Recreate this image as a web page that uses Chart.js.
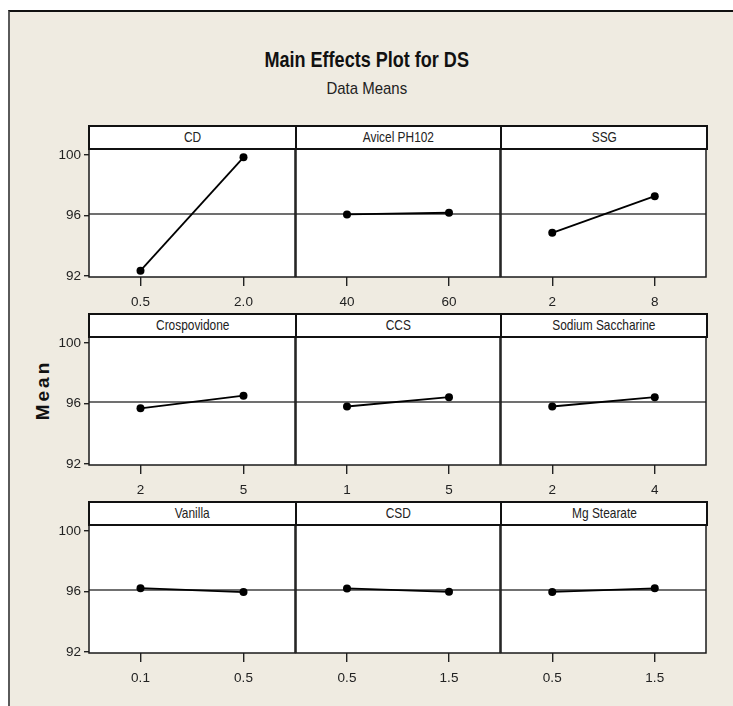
<!DOCTYPE html>
<html>
<head>
<meta charset="utf-8">
<script src="https://cdn.jsdelivr.net/npm/chart.js@4.4.1/dist/chart.umd.min.js"></script>
<style>
  html, body { margin: 0; padding: 0; background: #ffffff; }
  body { width: 733px; height: 706px; overflow: hidden; position: relative;
         font-family: "Liberation Sans", Arial, sans-serif; }
  #frame { position: absolute; left: 8px; top: 10px; width: 740px; height: 720px;
           background: #efebe1; border-left: 2px solid #5a5a5a; border-top: 2px solid #111; }
  .abs { position: absolute; }
  .sq { display: inline-block; transform-origin: 50% 50%; }
  #title { left: 0; width: 733px; top: 47px; text-align: center; font-weight: bold;
           font-size: 22px; color: #111; line-height: 26px; }
  #title .sq { transform: scaleX(0.82); }
  #subtitle { left: 0; width: 733px; top: 79px; text-align: center; font-size: 17px;
              color: #222; line-height: 20px; }
  #subtitle .sq { transform: scaleX(0.88); }
  #ylab { left: 43px; top: 390px; transform: translate(-50%, -50%) rotate(-90deg);
          font-family: "Liberation Sans", Arial, sans-serif; font-weight: bold; font-size: 19px;
          letter-spacing: 3px; color: #111; white-space: nowrap; }
  .strip { position: absolute; box-sizing: border-box; background: #ffffff;
           border: 2px solid #111; text-align: center; font-size: 14.5px; color: #222;
           white-space: nowrap; z-index: 5; }
  .strip .sq { transform: scaleX(0.82); }
  canvas.panel { position: absolute; }
</style>
</head>
<body>
<div id="frame"></div>
<div id="title" class="abs"><span class="sq">Main Effects Plot for DS</span></div>
<div id="subtitle" class="abs"><span class="sq">Data Means</span></div>
<div id="ylab" class="abs">Mean</div>
<script>
// ---- data ----
const factors = ["CD", "Avicel PH102", "SSG",
                 "Crospovidone", "CCS", "Sodium Saccharine",
                 "Vanilla", "CSD", "Mg Stearate"];
const levels = [["0.5", "2.0"], ["40", "60"], ["2", "8"],
                ["2", "5"], ["1", "5"], ["2", "4"],
                ["0.1", "0.5"], ["0.5", "1.5"], ["0.5", "1.5"]];
const means = [[92.35, 99.85], [96.07, 96.18], [94.85, 97.28],
               [95.68, 96.52], [95.80, 96.42], [95.80, 96.42],
               [96.22, 95.96], [96.20, 95.98], [95.97, 96.21]];
const grandMean = 96.1;
const yTicks = [92, 96, 100];
const yMin = 91.93, yMax = 100.4;

// ---- layout ----
const colL = [89, 296, 501], colR = [296, 501, 707];
const stripTop = [125, 313, 501], rowT = [149, 337, 525], rowB = [277, 465, 653];
const AXW = 60, PADTOP = 12, PADR = 3, AXH = 44;
const FONT = '"Liberation Sans", Arial, sans-serif';

const panelFrame = {
  id: 'panelFrame',
  beforeDraw(chart) {
    const a = chart.chartArea, ctx = chart.ctx;
    ctx.save(); ctx.fillStyle = '#ffffff';
    ctx.fillRect(a.left, a.top, a.right - a.left, a.bottom - a.top); ctx.restore();
  },
  afterDraw(chart) {
    const a = chart.chartArea, ctx = chart.ctx;
    ctx.save(); ctx.strokeStyle = '#1a1a1a'; ctx.lineWidth = 1.5;
    ctx.strokeRect(a.left, a.top, a.right - a.left, a.bottom - a.top); ctx.restore();
  }
};

factors.forEach((name, i) => {
  const r = Math.floor(i / 3), c = i % 3;
  const L = colL[c], R = colR[c], T = rowT[r], B = rowB[r];
  const cv = document.createElement('canvas');
  cv.className = 'panel';
  const w = (R - L) + AXW + PADR, h = (B - T) + PADTOP + AXH;
  cv.width = w; cv.height = h;
  cv.style.left = (L - AXW) + 'px'; cv.style.top = (T - PADTOP) + 'px';
  cv.style.width = w + 'px'; cv.style.height = h + 'px';
  document.body.appendChild(cv);

  const strip = document.createElement('div');
  strip.className = 'strip';
  strip.style.left = (L - 1) + 'px'; strip.style.top = stripTop[r] + 'px';
  strip.style.width = (R - L + 2) + 'px'; strip.style.height = (T - stripTop[r] + 1) + 'px';
  strip.style.lineHeight = (T - stripTop[r] - 3) + 'px';
  const sp = document.createElement('span');
  sp.className = 'sq';
  sp.textContent = name;
  strip.appendChild(sp);
  document.body.appendChild(strip);

  const first = c === 0;
  new Chart(cv, {
    type: 'line',
    data: {
      datasets: [
        { data: [{x: 0, y: means[i][0]}, {x: 1, y: means[i][1]}],
          borderColor: '#000', borderWidth: 1.8, pointRadius: 4,
          pointBackgroundColor: '#000', pointBorderWidth: 0, tension: 0 },
        { data: [{x: -0.5, y: grandMean}, {x: 1.5, y: grandMean}],
          borderColor: '#404040', borderWidth: 1.4, pointRadius: 0 }
      ]
    },
    options: {
      responsive: false, animation: false, devicePixelRatio: 1,
      layout: { padding: { top: PADTOP, right: PADR, left: 0, bottom: 0 } },
      plugins: { legend: { display: false }, tooltip: { enabled: false }, title: { display: false } },
      scales: {
        x: {
          type: 'linear', min: -0.5, max: 1.5,
          afterBuildTicks: s => { s.ticks = [{value: 0}, {value: 1}]; },
          afterFit: s => { s.height = AXH; },
          ticks: { callback: (v, idx) => levels[i][idx], font: { family: FONT, size: 13.5 },
                   color: '#222', padding: 8, maxRotation: 0, autoSkip: false },
          grid: { display: true, drawOnChartArea: false, drawTicks: true, tickLength: 9,
                  color: '#222', lineWidth: 1.4 },
          border: { display: false }
        },
        y: {
          type: 'linear', min: yMin, max: yMax,
          afterBuildTicks: s => { s.ticks = yTicks.map(v => ({value: v})); },
          afterFit: s => { s.width = AXW; },
          ticks: { display: first, font: { family: FONT, size: 13.5 }, color: '#222', padding: 3 },
          grid: { display: first, drawOnChartArea: false, drawTicks: true, tickLength: 5,
                  color: '#222', lineWidth: 1.4 },
          border: { display: false }
        }
      }
    },
    plugins: [panelFrame]
  });
});
</script>
</body>
</html>
